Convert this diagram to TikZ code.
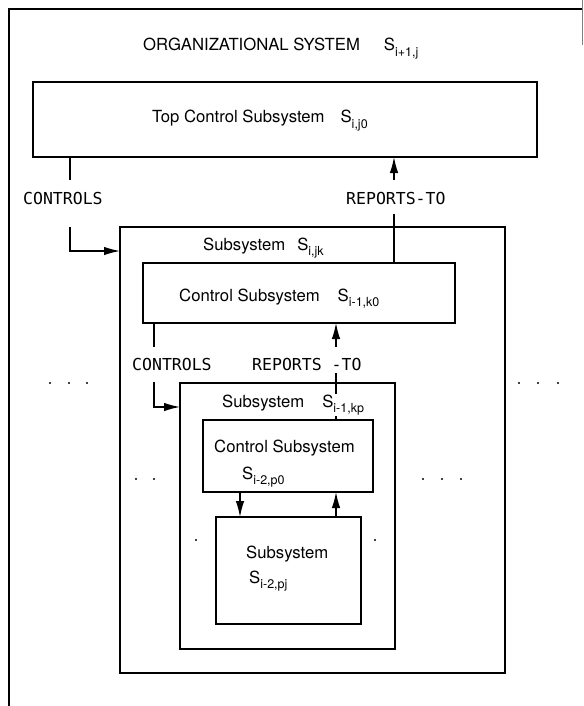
\documentclass[tikz,border=0pt]{standalone}
\usepackage{fontspec}
\setmainfont{TeX Gyre Heros}
\newfontfamily\plotfont{DejaVu Sans Mono}
\usetikzlibrary{arrows.meta}
\newcommand{\sys}[1]{S\raisebox{-0.32em}{\fontsize{12.5}{13}\selectfont #1}}

\begin{document}
\begin{tikzpicture}[x=1pt,y=-1pt,
  box/.style={draw,line width=1.5pt,anchor=north west,inner sep=0pt,outer sep=0pt},
  lab/.style={anchor=base west,inner sep=0pt,font=\fontsize{16.7}{19}\selectfont},
  rel/.style={anchor=base west,inner sep=0pt,font=\plotfont\fontsize{16.5}{18}\selectfont},
  conn/.style={line width=1.3pt},
  tip/.style={conn,-{Latex[length=16pt,width=8.5pt]}}]
\useasboundingbox (0,0) rectangle (583,706);

\draw [line width=1.5pt] (9,706) -- (9,9) -- (583,9);
\draw [gray, thin] (582,0) -- (582,45);

\node [lab] (orgsys) at (143,51) {ORGANIZATIONAL SYSTEM\hspace{24pt}\sys{i+1,j}};

\node [box,minimum width=504pt,minimum height=75pt] (topctl) at (33,82) {};
\node [lab] (topctllab) at (152,123) {Top Control Subsystem\hspace{16pt}\sys{i,j0}};

\node [box,minimum width=385pt,minimum height=446pt] (subjk) at (120,227) {};
\node [lab] (subjklab) at (203,250) {Subsystem\hspace{12pt}\sys{i,jk}};

\node [box,minimum width=312pt,minimum height=60pt] (ctlk) at (143,263) {};
\node [lab] (ctlklab) at (179,301) {Control Subsystem\hspace{18pt}\sys{i-1,k0}};

\node [box,minimum width=215pt,minimum height=266pt] (subkp) at (180,383) {};

\node [box,minimum width=170pt,minimum height=72pt] (ctlp) at (203,420) {};
\node [lab] (ctlplab) at (214,452) {Control Subsystem};
\node [lab] (ctlpsys) at (242,479) {\sys{i-2,p0}};

\node [box,minimum width=145pt,minimum height=107pt] (subpj) at (216,517) {};
\node [lab] (subpjlab) at (246,558) {Subsystem};
\node [lab] (subpjsys) at (249,583) {\sys{i-2,pj}};

\node [rel] (ctlone) at (23,204) {CONTROLS};
\node [rel] (repone) at (346,204) {REPORTS-TO};
\node [rel] (ctltwo) at (132,370) {CONTROLS};
\node [rel] (reptwo) at (252,370) {REPORTS -TO};

\coordinate (c1a) at (70,180);
\coordinate (c1b) at (70,227);
\coordinate (c1c) at (70,251);
\draw [conn] (topctl.south -| c1a) -- (c1a);
\draw [tip] (c1b) -- (c1c) -- (c1c -| subjk.west);

\coordinate (r1a) at (394,180);
\coordinate (r1b) at (394,214);
\draw [tip] (r1a) -- (r1a |- topctl.south);
\draw [conn] (r1b) -- (r1b |- ctlk.north);

\coordinate (c2a) at (154,347);
\coordinate (c2b) at (154,382);
\coordinate (c2c) at (154,407);
\draw [conn] (ctlk.south -| c2a) -- (c2a);
\draw [tip] (c2b) -- (c2c) -- (c2c -| subkp.west);

\coordinate (r2a) at (336,347);
\coordinate (r2b) at (336,373);
\draw [tip] (r2a) -- (r2a |- ctlk.south);
\draw [conn] (r2b) -- (r2b |- ctlp.north);
\node [lab,fill=white,inner sep=1pt] (subkplab) at (221,407) {Subsystem\hspace{18pt}\sys{i-1,kp}};

\coordinate (dn) at (240,0);
\coordinate (up) at (336,0);
\draw [tip] (ctlp.south -| dn) -- (subpj.north -| dn);
\draw [tip] (subpj.north -| up) -- (ctlp.south -| up);

\foreach \x in {50,69,87,519,538,558}
  \fill (\x,383) circle (1.2pt);
\foreach \x in {136,154,423,442,461}
  \fill (\x,479) circle (1.2pt);
\foreach \x in {196,375}
  \fill (\x,540) circle (1.2pt);

\end{tikzpicture}
\end{document}
